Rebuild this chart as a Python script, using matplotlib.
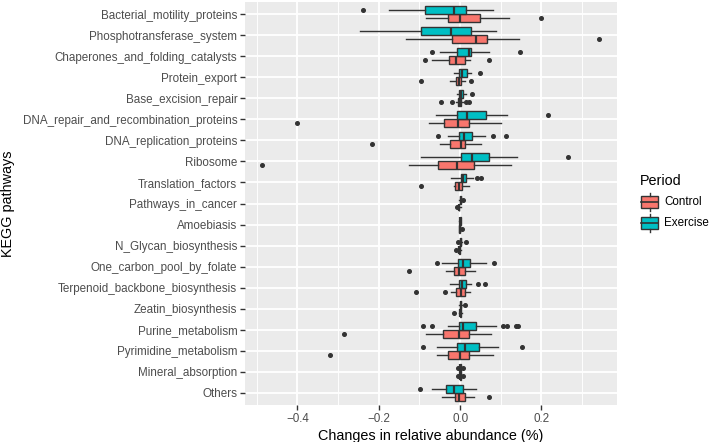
import matplotlib
matplotlib.use('Agg')
from matplotlib import pyplot as plt, patches
from matplotlib.lines import Line2D

plt.rcParams['font.family'] = ['Liberation Sans', 'DejaVu Sans']

# KEGG pathways, top to bottom as in the chart
pathways = ['Bacterial_motility_proteins', 'Phosphotransferase_system',
            'Chaperones_and_folding_catalysts', 'Protein_export',
            'Base_excision_repair', 'DNA_repair_and_recombination_proteins',
            'DNA_replication_proteins', 'Ribosome', 'Translation_factors',
            'Pathways_in_cancer', 'Amoebiasis', 'N_Glycan_biosynthesis',
            'One_carbon_pool_by_folate', 'Terpenoid_backbone_biosynthesis',
            'Zeatin_biosynthesis', 'Purine_metabolism', 'Pyrimidine_metabolism',
            'Mineral_absorption', 'Others']

# (whisker low, q1, median, q3, whisker high)
control_box = [(-0.085, -0.030, 0.000, 0.048, 0.119),
               (-0.134, -0.019, 0.038, 0.066, 0.144),
               (-0.068, -0.028, -0.009, 0.011, 0.025),
               (-0.026, -0.009, -0.002, 0.003, 0.013),
               (-0.010, -0.006, -0.001, 0.001, 0.008),
               (-0.077, -0.040, -0.006, 0.021, 0.100),
               (-0.049, -0.024, 0.002, 0.012, 0.051),
               (-0.125, -0.055, -0.008, 0.035, 0.125),
               (-0.016, -0.012, -0.002, 0.005, 0.022),
               (-0.006, -0.004, -0.003, -0.002, 0.001),
               (-0.003, -0.002, -0.001, 0.000, 0.002),
               (-0.006, -0.003, -0.002, -0.001, 0.001),
               (-0.034, -0.015, -0.002, 0.012, 0.037),
               (-0.023, -0.010, 0.002, 0.011, 0.025),
               (-0.004, -0.001, 0.000, 0.001, 0.004),
               (-0.085, -0.041, -0.002, 0.022, 0.076),
               (-0.057, -0.029, -0.001, 0.022, 0.080),
               (-0.004, -0.001, 0.000, 0.001, 0.004),
               (-0.045, -0.012, -0.002, 0.012, 0.033)]
control_out = [[0.198], [0.341], [-0.086, 0.070], [-0.095, 0.026],
               [-0.047, -0.020, 0.015, 0.022], [-0.402], [-0.216], [-0.487],
               [-0.095], [-0.008], [0.005], [-0.010], [-0.126], [-0.109, -0.037],
               [-0.016], [-0.286], [-0.319], [-0.006, 0.006], [0.070]]

exercise_box = [(-0.174, -0.087, -0.016, 0.014, 0.081),
                (-0.247, -0.095, -0.023, 0.026, 0.089),
                (-0.049, -0.007, 0.021, 0.027, 0.072),
                (-0.014, -0.004, 0.005, 0.016, 0.027),
                (-0.008, -0.002, 0.003, 0.008, 0.015),
                (-0.059, -0.007, 0.018, 0.063, 0.115),
                (-0.029, -0.002, 0.009, 0.030, 0.062),
                (-0.095, 0.002, 0.029, 0.072, 0.140),
                (-0.022, 0.002, 0.008, 0.015, 0.031),
                (-0.003, -0.001, 0.001, 0.002, 0.004),
                (-0.002, -0.001, 0.000, 0.001, 0.002),
                (-0.002, -0.001, 0.001, 0.002, 0.004),
                (-0.045, -0.005, 0.007, 0.024, 0.063),
                (-0.026, -0.002, 0.005, 0.015, 0.027),
                (-0.003, -0.001, 0.001, 0.002, 0.004),
                (-0.031, -0.003, 0.008, 0.038, 0.088),
                (-0.058, -0.007, 0.013, 0.046, 0.093),
                (-0.004, -0.001, 0.000, 0.001, 0.004),
                (-0.070, -0.034, -0.014, 0.006, 0.038)]
exercise_out = [[-0.239], [], [-0.070, 0.146], [0.050], [0.028], [0.217],
                [-0.055, 0.082, 0.112], [0.266], [0.042, 0.052], [0.008], [],
                [-0.005, 0.015], [-0.056, 0.083], [0.043, 0.062], [0.013],
                [-0.092, -0.068, 0.105, 0.116, 0.137, 0.142], [-0.092, 0.151],
                [-0.006, 0.006], [-0.099]]

groups = ['Control', 'Exercise']
colors = {'Control': '#F8766D', 'Exercise': '#00BFC4'}
xticks = [-0.4, -0.2, 0.0, 0.2]
xtick_labels = ['\u22120.4', '\u22120.2', '0.0', '0.2']

W, H = 709, 442
fig = plt.figure(figsize=(W / 100, H / 100), dpi=100)
ax = fig.add_axes([245 / W, (H - 405.3) / H, 371.7 / W, 403.6 / H])
ax.set_facecolor('#EBEBEB')

n = len(pathways)
ypos = [n - i for i in range(n)]


def make_stats(boxes, outs):
    st = []
    for b, o in zip(boxes, outs):
        st.append(dict(whislo=b[0], q1=b[1], med=b[2], q3=b[3], whishi=b[4], fliers=o))
    return st


edge = '#333333'
for grp, boxes, outs, off in [('Control', control_box, control_out, -0.19),
                              ('Exercise', exercise_box, exercise_out, 0.19)]:
    ax.bxp(make_stats(boxes, outs), positions=[y + off for y in ypos], widths=0.38,
           orientation='horizontal', patch_artist=True, showcaps=False,
           boxprops=dict(facecolor=colors[grp], edgecolor=edge, linewidth=1.0),
           medianprops=dict(color=edge, linewidth=1.6),
           whiskerprops=dict(color=edge, linewidth=1.0),
           flierprops=dict(marker='o', markersize=2.6, markerfacecolor=edge,
                           markeredgecolor=edge, linestyle='none'),
           zorder=3)

ax.set_xlim(-0.529, 0.385)
ax.set_ylim(0.4, n + 0.6)
ax.set_xticks(xticks)
ax.set_xticklabels(xtick_labels)
ax.set_xticks([-0.5, -0.3, -0.1, 0.1, 0.3], minor=True)
ax.set_yticks(ypos)
ax.set_yticklabels(pathways)
ax.grid(which='major', color='white', linewidth=1.3, zorder=0)
ax.grid(which='minor', axis='x', color='white', linewidth=0.65, zorder=0)
ax.set_axisbelow(True)
for s in ax.spines.values():
    s.set_visible(False)
ax.tick_params(which='major', length=3.5, width=1.0, color=edge, labelcolor='#4D4D4D',
               labelsize=8.4, pad=2)
ax.tick_params(which='minor', length=0)

ax.set_xlabel('Changes in relative abundance (%)', fontsize=10.4, color='black', labelpad=3)
fig.text(8.5 / W, 1 - 203.5 / H, 'KEGG pathways', rotation=90, fontsize=10.4,
         ha='center', va='center')

# legend with boxplot keys
fig.text(640 / W, 1 - 181 / H, 'Period', fontsize=10.4, ha='left', va='center')
tr = fig.transFigure
for k, grp in enumerate(groups):
    cy = 202 + 21 * k
    x0, x1 = 641, 658
    fig.patches.append(patches.Rectangle((x0 / W, 1 - (cy + 6) / H), (x1 - x0) / W, 12 / H,
                                         transform=tr, facecolor=colors[grp],
                                         edgecolor=edge, linewidth=1.0))
    xm = (x0 + x1) / 2
    fig.lines.append(Line2D([x0 / W, x1 / W], [1 - cy / H, 1 - cy / H], transform=tr,
                            color=edge, linewidth=1.2))
    fig.lines.append(Line2D([xm / W, xm / W], [1 - (cy - 9) / H, 1 - (cy - 6) / H],
                            transform=tr, color=edge, linewidth=1.0))
    fig.lines.append(Line2D([xm / W, xm / W], [1 - (cy + 6) / H, 1 - (cy + 9) / H],
                            transform=tr, color=edge, linewidth=1.0))
    fig.text(664 / W, 1 - cy / H, grp, fontsize=8.4, ha='left', va='center')

fig.savefig('out.png', dpi=100)
